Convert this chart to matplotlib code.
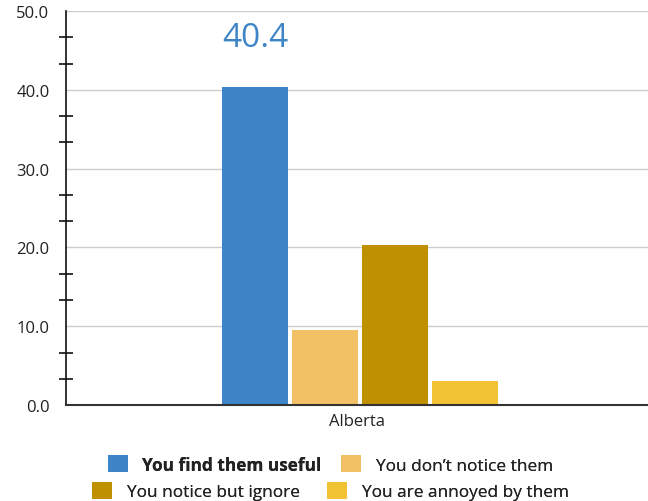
import matplotlib.pyplot as plt
from matplotlib.ticker import MultipleLocator, FormatStrFormatter
from matplotlib.patches import Patch

plt.rcParams['font.family'] = ['Open Sans', 'DejaVu Sans']

region = "Alberta"
responses = ["You find them useful", "You don\u2019t notice them",
             "You notice but ignore", "You are annoyed by them"]
values = [40.4, 9.5, 20.3, 3.1]
colors = ['#3d85c6', '#f2c166', '#bf9000', '#f1c232']

fig = plt.figure(figsize=(6.48, 5.02), dpi=100)
ax = fig.add_axes([0.102, 0.191, 0.898, 0.785])

bar_w = 0.1886
step = 0.2
offsets = [(i - 1.5) * step + 0.009 for i in range(len(values))]
for off, v, c in zip(offsets, values, colors):
    ax.bar(off, v, bar_w, color=c, zorder=3)

# value label on the highlighted series
ax.text(offsets[0], 44.6, f"{values[0]:.1f}", color=colors[0], fontsize=24,
        ha='center', va='bottom')

ax.set_xlim(-0.83, 0.83)
ax.set_ylim(0, 50)
ax.set_xticks([0])
ax.set_xticklabels([region], fontsize=12, color='#222222')
ax.tick_params(axis='x', length=0, pad=6)

ax.yaxis.set_major_locator(MultipleLocator(10))
ax.yaxis.set_minor_locator(MultipleLocator(10 / 3))
ax.yaxis.set_major_formatter(FormatStrFormatter('%.1f'))
ax.tick_params(axis='y', which='major', length=0, pad=12, labelsize=12,
               labelcolor='#222222')
ax.tick_params(axis='y', which='minor', length=10, width=1.2, direction='inout',
               color='#111111')
ax.grid(axis='y', which='major', color='#cccccc', linewidth=1, zorder=0)

for s in ['top', 'right']:
    ax.spines[s].set_visible(False)
ax.spines['left'].set_color('#111111')
ax.spines['left'].set_linewidth(1.2)
ax.spines['bottom'].set_color('#333333')
ax.spines['bottom'].set_linewidth(1.5)
ax.spines['bottom'].set_zorder(4)

# legend laid out as two centred rows
handles = [Patch(facecolor=c) for c in colors]
rows = [(0, 1, 0.073, 1.15), (2, 3, 0.020, 1.6)]
for i, j, y, colsp in rows:
    leg = fig.legend([handles[i], handles[j]], [responses[i], responses[j]],
                     loc='center', bbox_to_anchor=(0.51, y), ncol=2,
                     frameon=False, fontsize=12.4, handlelength=1.15,
                     handleheight=1.15, handletextpad=0.85, columnspacing=colsp)
    for t in leg.get_texts():
        t.set_color('#222222')
    if i == 0:
        leg.get_texts()[0].set_fontweight('bold')
    fig.add_artist(leg)

fig.savefig("out.png", dpi=100)
